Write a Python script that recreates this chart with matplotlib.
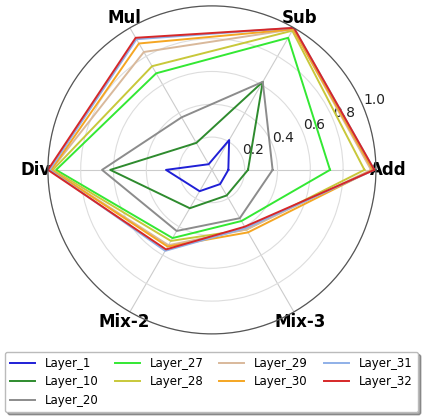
"""
Radar chart of per-layer accuracy on arithmetic tasks (Add, Sub, Mul, Div, Mix-2, Mix-3).
"""

import numpy as np
import matplotlib
matplotlib.use('Agg')
import matplotlib.pyplot as plt

LABEL_FONT_SIZE = 12
TICK_FONT_SIZE = 10
LEGEND_FONT_SIZE = 8.5

# Task names, counter-clockwise from the right
tasks = ['Add', 'Sub', 'Mul', 'Div', 'Mix-2', 'Mix-3']

layer_names = ['Layer_1', 'Layer_10', 'Layer_20', 'Layer_27', 'Layer_28',
               'Layer_29', 'Layer_30', 'Layer_31', 'Layer_32']

# Values, one list per layer, in the order of `tasks`
layer_1 = [0.10, 0.21, 0.04, 0.28, 0.15, 0.10]
layer_10 = [0.22, 0.62, 0.19, 0.62, 0.27, 0.18]
layer_20 = [0.37, 0.62, 0.37, 0.67, 0.43, 0.34]
layer_27 = [0.72, 0.93, 0.68, 0.95, 0.48, 0.36]
layer_28 = [0.93, 0.98, 0.73, 0.97, 0.50, 0.42]
layer_29 = [0.97, 0.99, 0.83, 0.98, 0.53, 0.42]
layer_30 = [0.98, 0.99, 0.89, 0.98, 0.54, 0.44]
layer_31 = [0.99, 1.00, 0.92, 0.99, 0.57, 0.41]
layer_32 = [0.99, 1.00, 0.93, 1.00, 0.56, 0.40]

layer_values = [layer_1, layer_10, layer_20, layer_27, layer_28,
                layer_29, layer_30, layer_31, layer_32]

layer_colors = ['#1f1fd6', '#2e8b2e', '#8c8c8c', '#33e833', '#c8c83a',
                '#d9b99b', '#f5a623', '#8fb0e8', '#d62728']

# Angles for each task, closed polygon
angles = np.linspace(0, 2 * np.pi, len(tasks), endpoint=False).tolist()
angles += angles[:1]

fig = plt.figure(figsize=(4.23, 4.20), dpi=100)
ax = fig.add_axes([0.113, 0.205, 0.776, 0.781], projection='polar')

for name, values, color in zip(layer_names, layer_values, layer_colors):
    vals = list(values) + values[:1]
    ax.plot(angles, vals, color=color, linewidth=1.4, label=name)

ax.set_ylim(0, 1)
ax.set_xticks(angles[:-1])
ax.set_xticklabels(tasks, fontsize=LABEL_FONT_SIZE, fontweight='bold')
ax.tick_params(axis='x', pad=-2)
ax.set_yticks([0.2, 0.4, 0.6, 0.8, 1.0])
ax.set_yticklabels(['0.2', '0.4', '0.6', '0.8', '1.0'], fontsize=TICK_FONT_SIZE, color='#222222')
ax.set_rlabel_position(22.5)

# Light grid, dark outer circle
ax.xaxis.grid(True, color='#cccccc', linewidth=0.8)
ax.yaxis.grid(True, color='#dddddd', linewidth=0.8)
ax.spines['polar'].set_color('#555555')
ax.spines['polar'].set_linewidth(0.9)

# Legend below the radar
leg = fig.legend(loc='lower center', bbox_to_anchor=(0.5, 0.005), ncol=4,
                 fontsize=LEGEND_FONT_SIZE, shadow=True, handlelength=2.1,
                 handletextpad=0.85, columnspacing=1.35, labelspacing=0.45,
                 borderpad=0.45, framealpha=1)
leg.get_frame().set_edgecolor('#bbbbbb')

plt.savefig('out.png', dpi=100)
plt.close()
